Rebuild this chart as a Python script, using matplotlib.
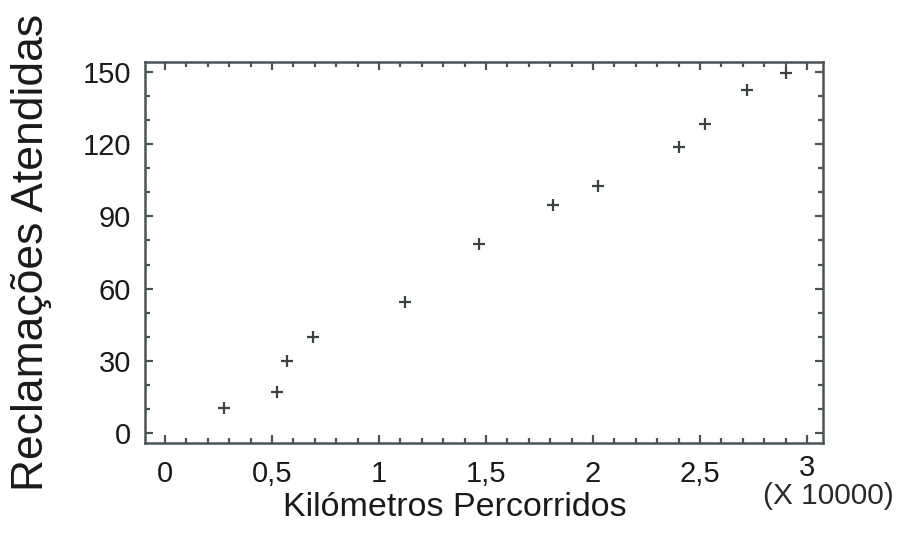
import matplotlib.pyplot as plt
from matplotlib.ticker import MultipleLocator, FixedLocator, FuncFormatter
from matplotlib.transforms import ScaledTranslation

plt.rcParams['font.family'] = ['Liberation Sans', 'DejaVu Sans']

# km travelled (x 10000) and complaints handled
km = [0.276, 0.523, 0.570, 0.692, 1.121, 1.467, 1.813, 2.023, 2.402, 2.523, 2.720, 2.902]
reclamacoes = [10.4, 17.0, 29.9, 39.9, 54.4, 78.5, 94.7, 102.6, 118.8, 128.4, 142.5, 149.6]
xticks = [0, 0.5, 1, 1.5, 2, 2.5, 3]

cor = '#4a5458'
texto = '#1a1a1a'

fig = plt.figure(figsize=(8.98, 5.44), dpi=100)
ax = fig.add_axes([0.1615, 0.1857, 0.755, 0.7003])
ax.plot(km, reclamacoes, linestyle='none', marker='+', markersize=9,
        markeredgewidth=1.6, color='#3a4246')

ax.set_xlim(-0.093, 3.075)
ax.set_ylim(-4.2, 154.2)
ax.xaxis.set_major_locator(FixedLocator(xticks))
ax.xaxis.set_minor_locator(MultipleLocator(0.1))
ax.yaxis.set_major_locator(MultipleLocator(30))
ax.yaxis.set_minor_locator(MultipleLocator(10))
ax.xaxis.set_major_formatter(FuncFormatter(lambda v, p: ('%g' % v).replace('.', ',')))

for s in ax.spines.values():
    s.set_color(cor)
    s.set_linewidth(1.8)
ax.tick_params(which='both', direction='in', top=True, right=True, color=cor, width=1.6)
ax.tick_params(which='major', length=6, labelsize=21, labelcolor=texto)
ax.tick_params(axis='x', which='major', pad=12)
ax.tick_params(axis='y', which='major', pad=10)
ax.tick_params(which='minor', length=3.5)

# the "3" sits a little higher, above the multiplier text
last = ax.xaxis.get_major_ticks()[-1].label1
last.set_transform(last.get_transform() + ScaledTranslation(0, 4 / 72, fig.dpi_scale_trans))

ax.set_xlabel('Kilómetros Percorridos', fontsize=24.5, color=texto)
ax.xaxis.set_label_coords(0.457, -0.128)
ax.set_ylabel('Reclamações Atendidas', fontsize=32, color=texto)
ax.yaxis.set_label_coords(-0.168, 0.5)
ax.yaxis.label.set_va('center')
fig.text(0.995, 0.089, '(X 10000)', fontsize=21.5, color='#2a2a2a', ha='right', va='center')

fig.savefig('out.png', dpi=100, facecolor='white')
